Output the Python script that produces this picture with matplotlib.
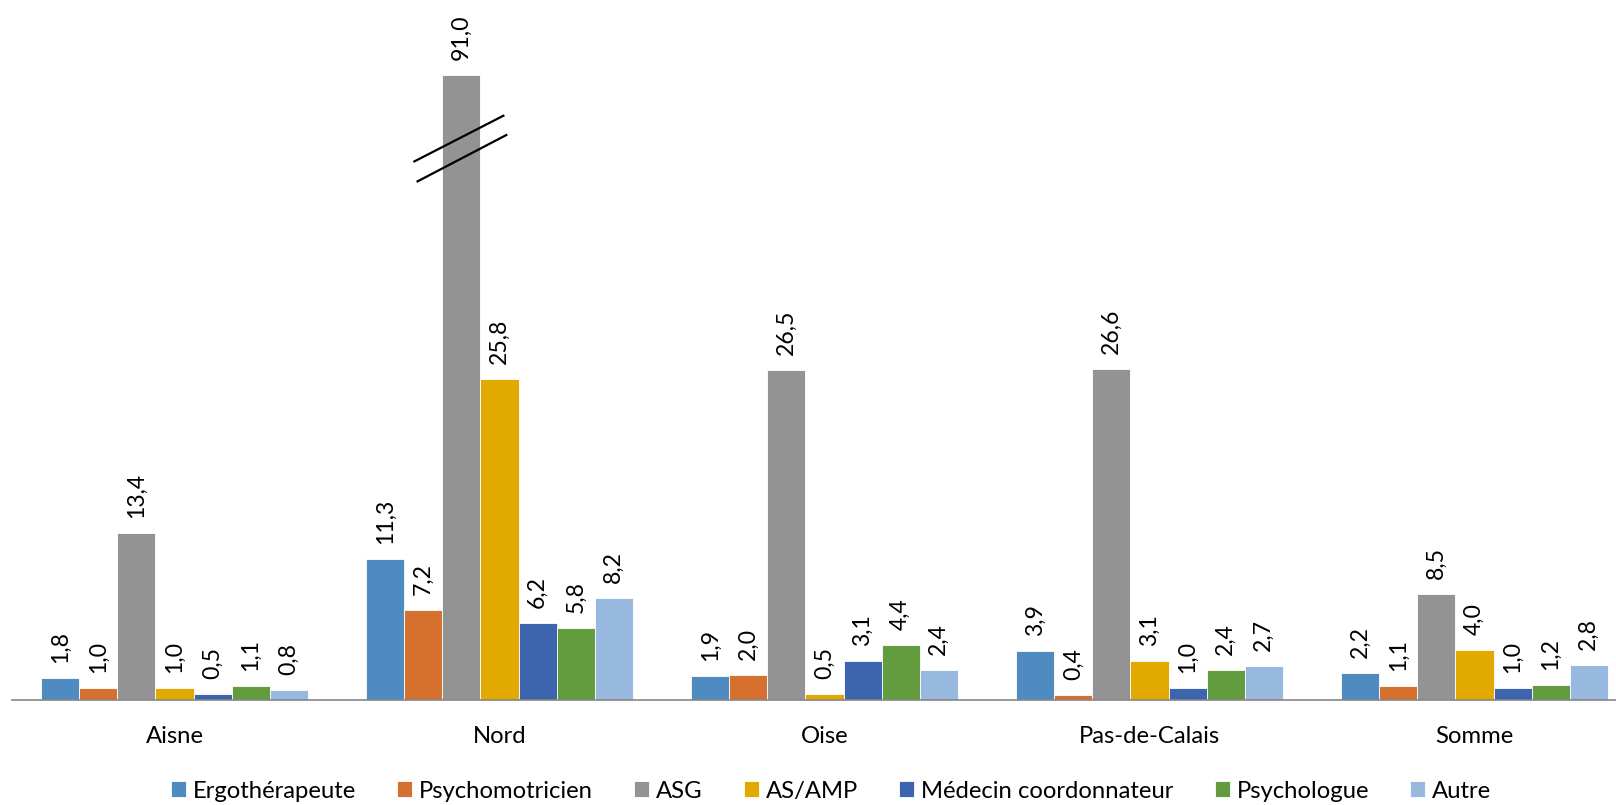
import matplotlib
matplotlib.use("Agg")
import matplotlib.pyplot as plt
import numpy as np

categories = ["Aisne", "Nord", "Oise", "Pas-de-Calais", "Somme"]
series_names = ["Ergothérapeute", "Psychomotricien", "ASG", "AS/AMP",
                "Médecin coordonnateur", "Psychologue", "Autre"]
ergo = [1.8, 11.3, 1.9, 3.9, 2.2]
psychomot = [1.0, 7.2, 2.0, 0.4, 1.1]
asg = [13.4, 91.0, 26.5, 26.6, 8.5]
as_amp = [1.0, 25.8, 0.5, 3.1, 4.0]
medecin = [0.5, 6.2, 3.1, 1.0, 1.0]
psychologue = [1.1, 5.8, 4.4, 2.4, 1.2]
autre = [0.8, 8.2, 2.4, 2.7, 2.8]
series_values = [ergo, psychomot, asg, as_amp, medecin, psychologue, autre]
colors = ["#4F8AC0", "#D5702E", "#939393", "#E2AA00", "#3D64AF", "#629C3F", "#97B9E0"]

AXIS_BREAK_CAP = 50.2   # bars above this value are drawn truncated with a break mark
YMAX = 56.2
FONT = "Lato"

fig = plt.figure(figsize=(16.16, 8.05), dpi=100)
ax = fig.add_axes([12/1616, 105/805, 1625/1616, 700/805])

n = len(series_names)
bw = 0.117
x = np.arange(len(categories))
for j, (name, vals, c) in enumerate(zip(series_names, series_values, colors)):
    xs = x + (j - (n - 1) / 2) * bw
    heights = [min(v, AXIS_BREAK_CAP) for v in vals]
    ax.bar(xs, heights, width=bw, color=c, edgecolor="white", linewidth=0.6, label=name, zorder=2)
    for xi, h, v in zip(xs, heights, vals):
        ax.text(xi, h + 1.2, f"{v:.1f}".replace(".", ","), rotation=90, ha="center", va="bottom",
                fontsize=16.6, family=FONT, color="black")
        if v > AXIS_BREAK_CAP:
            # break marks (two parallel slanted lines)
            ax.plot([xi - 0.148, xi + 0.132], [AXIS_BREAK_CAP - 7.0, AXIS_BREAK_CAP - 3.25],
                    color="black", lw=1.6, clip_on=False, zorder=3, solid_capstyle="butt")
            ax.plot([xi - 0.138, xi + 0.141], [AXIS_BREAK_CAP - 8.6, AXIS_BREAK_CAP - 4.8],
                    color="black", lw=1.6, clip_on=False, zorder=3, solid_capstyle="butt")

ax.set_xlim(-0.5, len(categories) - 0.5)
ax.set_ylim(0, YMAX)
ax.set_yticks([])
ax.set_xticks(x)
ax.set_xticklabels(categories, fontsize=17.2, family=FONT)
ax.tick_params(axis="x", length=0, pad=19)
for s in ["top", "right", "left"]:
    ax.spines[s].set_visible(False)
ax.spines["bottom"].set_color("#868686")
ax.spines["bottom"].set_linewidth(1.2)

leg = fig.legend(loc="center", bbox_to_anchor=(831/1616, 1 - 791/805), ncol=7, frameon=False,
                 prop={"family": FONT, "size": 17.2}, handlelength=0.63, handleheight=0.63,
                 handletextpad=0.29, columnspacing=1.72)

fig.savefig("out.png", dpi=100)
